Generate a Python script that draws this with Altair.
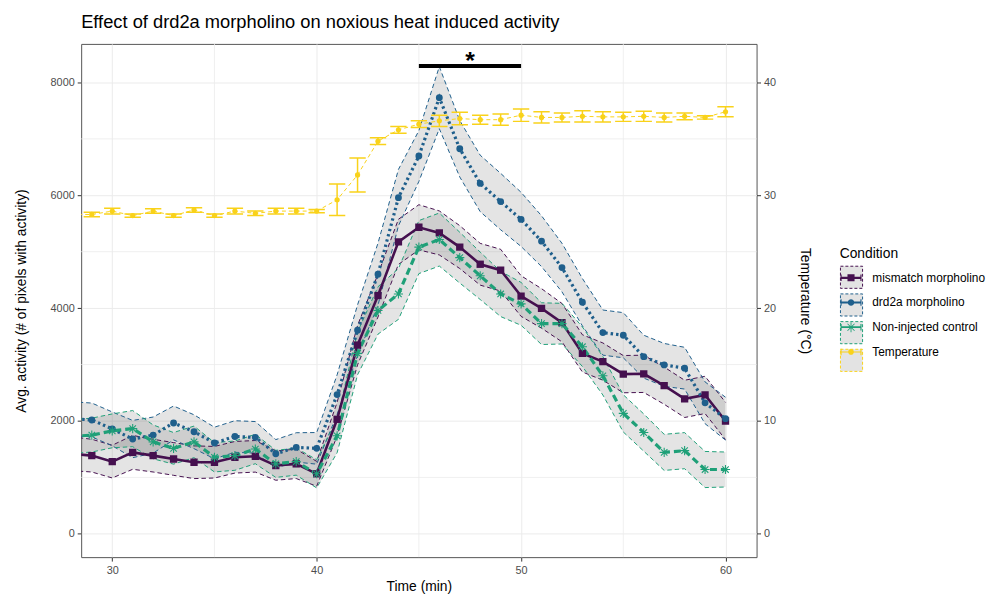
import altair as alt
import pandas as pd

# ---------------- data ----------------
TIME = list(range(28, 61))
CONDITIONS = ["mismatch morpholino", "drd2a morpholino", "Non-injected control", "Temperature"]
COLORS = ["#45104F", "#1F5F8C", "#1FA078", "#F9D21A"]

MISMATCH_MEAN = [1420, 1386, 1280, 1444, 1386, 1327, 1269, 1269, 1357, 1374, 1210, 1240, 1064,
                 2030, 3345, 4223, 5175, 5433, 5333, 5082, 4778, 4673, 4214, 3995, 3743, 3198,
                 3053, 2830, 2836, 2626, 2392, 2462, 2000]
MISMATCH_SE = [300, 290, 290, 300, 290, 290, 290, 280, 280, 280, 260, 260, 220,
               300, 350, 380, 400, 400, 390, 380, 370, 370, 360, 350, 340, 330,
               330, 330, 330, 330, 330, 330, 330]

DRD2A_MEAN = [2040, 2018, 1860, 1680, 1750, 1965, 1810, 1610, 1725, 1710, 1420, 1532, 1515,
              2468, 3608, 4602, 5958, 6696, 7730, 6825, 6210, 5889, 5573, 5187, 4719, 4105,
              3567, 3520, 3140, 2994, 2936, 2322, 2041]
DRD2A_SE = [300, 300, 300, 330, 320, 300, 300, 280, 280, 280, 250, 260, 280,
            350, 450, 550, 500, 450, 550, 500, 500, 500, 480, 450, 430, 420,
            400, 400, 380, 380, 370, 370, 380]

NONINJ_MEAN = [1725, 1750, 1825, 1865, 1630, 1515, 1630, 1357, 1386, 1503, 1240, 1280, 1064,
               1737, 3198, 3959, 4251, 5082, 5216, 4895, 4573, 4251, 4076, 3725, 3725, 3316,
               2801, 2135, 1795, 1444, 1474, 1140, 1140]
NONINJ_SE = [300, 300, 300, 320, 300, 280, 280, 260, 260, 260, 240, 240, 250,
             300, 380, 420, 450, 470, 470, 450, 420, 400, 380, 370, 360, 350,
             340, 330, 330, 320, 320, 320, 310]

TEMP_MEAN = [28.3, 28.3, 28.6, 28.2, 28.6, 28.2, 28.7, 28.2, 28.6, 28.4, 28.6, 28.6, 28.6,
             29.6, 31.8, 34.8, 35.8, 36.3, 36.6, 36.8, 36.7, 36.7, 37.1, 36.9, 36.9, 37.0,
             36.95, 36.95, 37.0, 36.9, 37.0, 36.9, 37.4]
TEMP_SE = [0.2, 0.2, 0.25, 0.15, 0.2, 0.15, 0.2, 0.15, 0.25, 0.2, 0.25, 0.25, 0.15,
           1.4, 1.5, 0.3, 0.3, 0.3, 0.5, 0.55, 0.4, 0.5, 0.55, 0.5, 0.4, 0.5,
           0.45, 0.4, 0.45, 0.4, 0.3, 0.15, 0.45]

SIG_X = [45, 50]
SIG_Y = [8290]
STAR_X = [47.5]
STAR_Y = [8240]
STAR_LABEL = ["*"]

X_TICKS = [30, 40, 50, 60]
X_MINOR = [35, 45, 55]
Y_TICKS = [0, 2000, 4000, 6000, 8000]
Y_MINOR = [1000, 3000, 5000, 7000]
T_TICKS = [0, 10, 20, 30, 40]
X_DOMAIN = [28.48, 61.52]
Y_DOMAIN = [-413, 8683]
TEMP_FACTOR = 200  # secondary axis: temperature = activity / 200
T_DOMAIN = [v / TEMP_FACTOR for v in Y_DOMAIN]

# ---------------- tables ----------------
rows = []
for cond, means, ses in [(CONDITIONS[0], MISMATCH_MEAN, MISMATCH_SE),
                         (CONDITIONS[1], DRD2A_MEAN, DRD2A_SE),
                         (CONDITIONS[2], NONINJ_MEAN, NONINJ_SE)]:
    for t, m, s in zip(TIME, means, ses):
        rows.append({"time": t, "cond": cond, "mean": m, "lo": m - s, "hi": m + s})
act_df = pd.DataFrame(rows)

temp_df = pd.DataFrame({"time": TIME, "temp": TEMP_MEAN,
                        "tlo": [m - s for m, s in zip(TEMP_MEAN, TEMP_SE)],
                        "thi": [m + s for m, s in zip(TEMP_MEAN, TEMP_SE)]})

FONT = "Liberation Sans"

x_scale = alt.Scale(domain=X_DOMAIN, nice=False, zero=False)
y_scale = alt.Scale(domain=Y_DOMAIN, nice=False, zero=False)
t_scale = alt.Scale(domain=T_DOMAIN, nice=False, zero=False)

x_axis = alt.Axis(values=X_TICKS, title="Time (min)", grid=True, labelPadding=4, titlePadding=4, format="d")
y_axis = alt.Axis(values=Y_TICKS, title="Avg. activity (# of pixels with activity)", grid=True,
                  orient="left", labelPadding=3, titlePadding=22, format="d")
t_axis = alt.Axis(values=T_TICKS, title="Temperature (°C)", grid=False, orient="right",
                  labelPadding=3, titlePadding=22, format="d")


def X(f):
    return alt.X(f"{f}:Q", scale=x_scale, axis=x_axis)


def Y(f):
    return alt.Y(f"{f}:Q", scale=y_scale, axis=y_axis)


def T(f):
    return alt.Y(f"{f}:Q", scale=t_scale, axis=t_axis)


# minor grid
minor_x = alt.Chart(pd.DataFrame({"v": X_MINOR})).mark_rule(color="#EBEBEB", strokeWidth=0.8).encode(x=X("v"))
minor_y = alt.Chart(pd.DataFrame({"v": Y_MINOR})).mark_rule(color="#EBEBEB", strokeWidth=0.8).encode(y=Y("v"))

base = alt.Chart(act_df)
band = base.mark_area(color="#7A7A7A", opacity=0.2, clip=True).encode(
    x=X("time"), y=Y("lo"), y2="hi", detail="cond:N")

LINE_STYLE = {
    CONDITIONS[0]: dict(strokeWidth=2.6),
    CONDITIONS[1]: dict(strokeWidth=3.2, strokeDash=[2.5, 3]),
    CONDITIONS[2]: dict(strokeWidth=3.2, strokeDash=[7, 4]),
}
ASTERISK = "M-1,0L1,0M0,-1L0,1M-0.71,-0.71L0.71,0.71M-0.71,0.71L0.71,-0.71"
POINT_STYLE = {
    CONDITIONS[0]: dict(shape="square", filled=True, size=55),
    CONDITIONS[1]: dict(shape="circle", filled=True, size=48),
    CONDITIONS[2]: dict(shape=ASTERISK, filled=False, size=85, strokeWidth=1.1),
}

outlines, lines, points = [], [], []
for cond, col in zip(CONDITIONS[:3], COLORS[:3]):
    sub = base.transform_filter(alt.datum.cond == cond)
    outlines.append(sub.transform_fold(["lo", "hi"], as_=["bound", "val"]).mark_line(
        color=col, strokeWidth=1, strokeDash=[4.5, 3], clip=True).encode(
        x=X("time"), y=Y("val"), detail="bound:N"))
    lines.append(sub.mark_line(color=col, clip=True, **LINE_STYLE[cond]).encode(x=X("time"), y=Y("mean")))
    points.append(sub.mark_point(color=col, opacity=1, clip=True, **POINT_STYLE[cond]).encode(
        x=X("time"), y=Y("mean")))

sig = alt.Chart(pd.DataFrame({"x1": [SIG_X[0]], "x2": [SIG_X[1]], "y": SIG_Y})).mark_rule(
    color="black", strokeWidth=4).encode(x=X("x1"), x2="x2", y=Y("y"))
star = alt.Chart(pd.DataFrame({"x": STAR_X, "y": STAR_Y, "lab": STAR_LABEL})).mark_text(
    fontSize=25, font=FONT, color="black", fontWeight="bold", baseline="alphabetic").encode(
    x=X("x"), y=Y("y"), text="lab:N")

act_group = alt.layer(minor_x, minor_y, band, *outlines, *lines, *points, sig, star)

tcol = COLORS[3]
tbase = alt.Chart(temp_df)
t_line = tbase.mark_line(color=tcol, strokeWidth=1, strokeDash=[4, 3], clip=True).encode(x=X("time"), y=T("temp"))
t_err = tbase.mark_rule(color=tcol, strokeWidth=1.5, clip=True).encode(x=X("time"), y=T("tlo"), y2="thi")
t_caps = tbase.transform_calculate(cl="datum.time - 0.4", cr="datum.time + 0.4").transform_fold(
    ["tlo", "thi"], as_=["end", "yv"]).mark_rule(color=tcol, strokeWidth=1.5, clip=True).encode(
    x=X("cl"), x2="cr", y=T("yv"))
t_pts = tbase.mark_point(shape="circle", filled=True, size=28, color=tcol, opacity=1, clip=True).encode(
    x=X("time"), y=T("temp"))
temp_group = alt.layer(t_line, t_err, t_caps, t_pts)

# ---------------- legend (two overlaid native legends) ----------------
BOX_DOMAIN = [c + " " for c in CONDITIONS]
LEG_X = 767
LEG_Y = 205
TITLE_BLOCK = 20  # title height + title padding of the box legend
SYM_SIZE = 500
LEG_COMMON = dict(orient="none", legendX=LEG_X, labelFontSize=12, labelColor="black", labelFont=FONT,
                  labelOffset=10, symbolSize=SYM_SIZE, rowPadding=0, padding=0)


def glyph(center, lw):
    return ("M-0.95,-{lw}H0.95V{lw}H-0.95Z "
            "M-0.95,-0.3H-0.85V0.3H-0.95Z M0.85,-0.3H0.95V0.3H0.85Z "
            "{c} M-1.04,-1.04 M1.04,1.04").format(lw=lw, c=center)


CIRCLE = "M0.3,0A0.3,0.3 0 1,1 -0.3,0A0.3,0.3 0 1,1 0.3,0Z"
SMALL_CIRCLE = "M0.26,0A0.26,0.26 0 1,1 -0.26,0A0.26,0.26 0 1,1 0.26,0Z"
SQUARE = "M-0.32,-0.32H0.32V0.32H-0.32Z"
STAR_FILLED = ("M-0.45,-0.04H0.45V0.04H-0.45Z M-0.04,-0.45H0.04V0.45H-0.04Z "
               "M-0.29,-0.346L0.346,0.29L0.29,0.346L-0.346,-0.29Z "
               "M-0.346,0.29L0.29,-0.346L0.346,-0.29L-0.29,0.346Z")
GLYPHS = [glyph(SQUARE, 0.1), glyph(CIRCLE, 0.08), glyph(STAR_FILLED, 0.08), glyph(SMALL_CIRCLE, 0.05)]

box_legend = alt.Legend(symbolType="square", symbolStrokeWidth=1, symbolDash=[3, 2], labelExpr="''",
                        legendY=LEG_Y, title="Condition", titleFontSize=14, titleFontWeight="normal",
                        titleColor="black", titleFont=FONT, titlePadding=5, **LEG_COMMON)
glyph_legend = alt.Legend(symbolStrokeWidth=0, title=None, legendY=LEG_Y + TITLE_BLOCK, **LEG_COMMON)

leg_df = pd.DataFrame({"cond": CONDITIONS, "box": BOX_DOMAIN})
leg_boxes = alt.Chart(leg_df).mark_point(shape="square", filled=True, opacity=1).encode(
    fill=alt.Fill("box:N", scale=alt.Scale(domain=BOX_DOMAIN, range=["#E3E3E3"] * 4), legend=box_legend),
    stroke=alt.Stroke("box:N", scale=alt.Scale(domain=BOX_DOMAIN, range=COLORS), legend=box_legend),
).transform_filter("false")

leg_glyphs = alt.Chart(leg_df).mark_point(filled=True, opacity=1).encode(
    color=alt.Color("cond:N", scale=alt.Scale(domain=CONDITIONS, range=COLORS), legend=glyph_legend),
    shape=alt.Shape("cond:N", scale=alt.Scale(domain=CONDITIONS, range=GLYPHS), legend=glyph_legend),
).transform_filter("false")

chart = alt.layer(act_group, temp_group, leg_boxes, leg_glyphs).resolve_scale(y="independent").properties(
    width=683, height=519,
    padding={"left": 6, "top": 2, "right": 0, "bottom": 0},
    title=alt.TitleParams("Effect of drd2a morpholino on noxious heat induced activity", anchor="start",
                          frame="group", fontSize=18.5, font=FONT, fontWeight="normal", color="black",
                          offset=12),
).configure(font=FONT).configure_view(stroke="#555555", strokeWidth=1).configure_axis(
    labelColor="#4D4D4D", labelFontSize=11, labelFont=FONT, tickColor="#333333", tickSize=4,
    titleFontSize=14, titleFontWeight="normal", titleColor="black", titleFont=FONT,
    domain=False, gridColor="#EBEBEB", gridWidth=1)

chart.save("out.html", embed_options={"renderer": "svg", "actions": False})
